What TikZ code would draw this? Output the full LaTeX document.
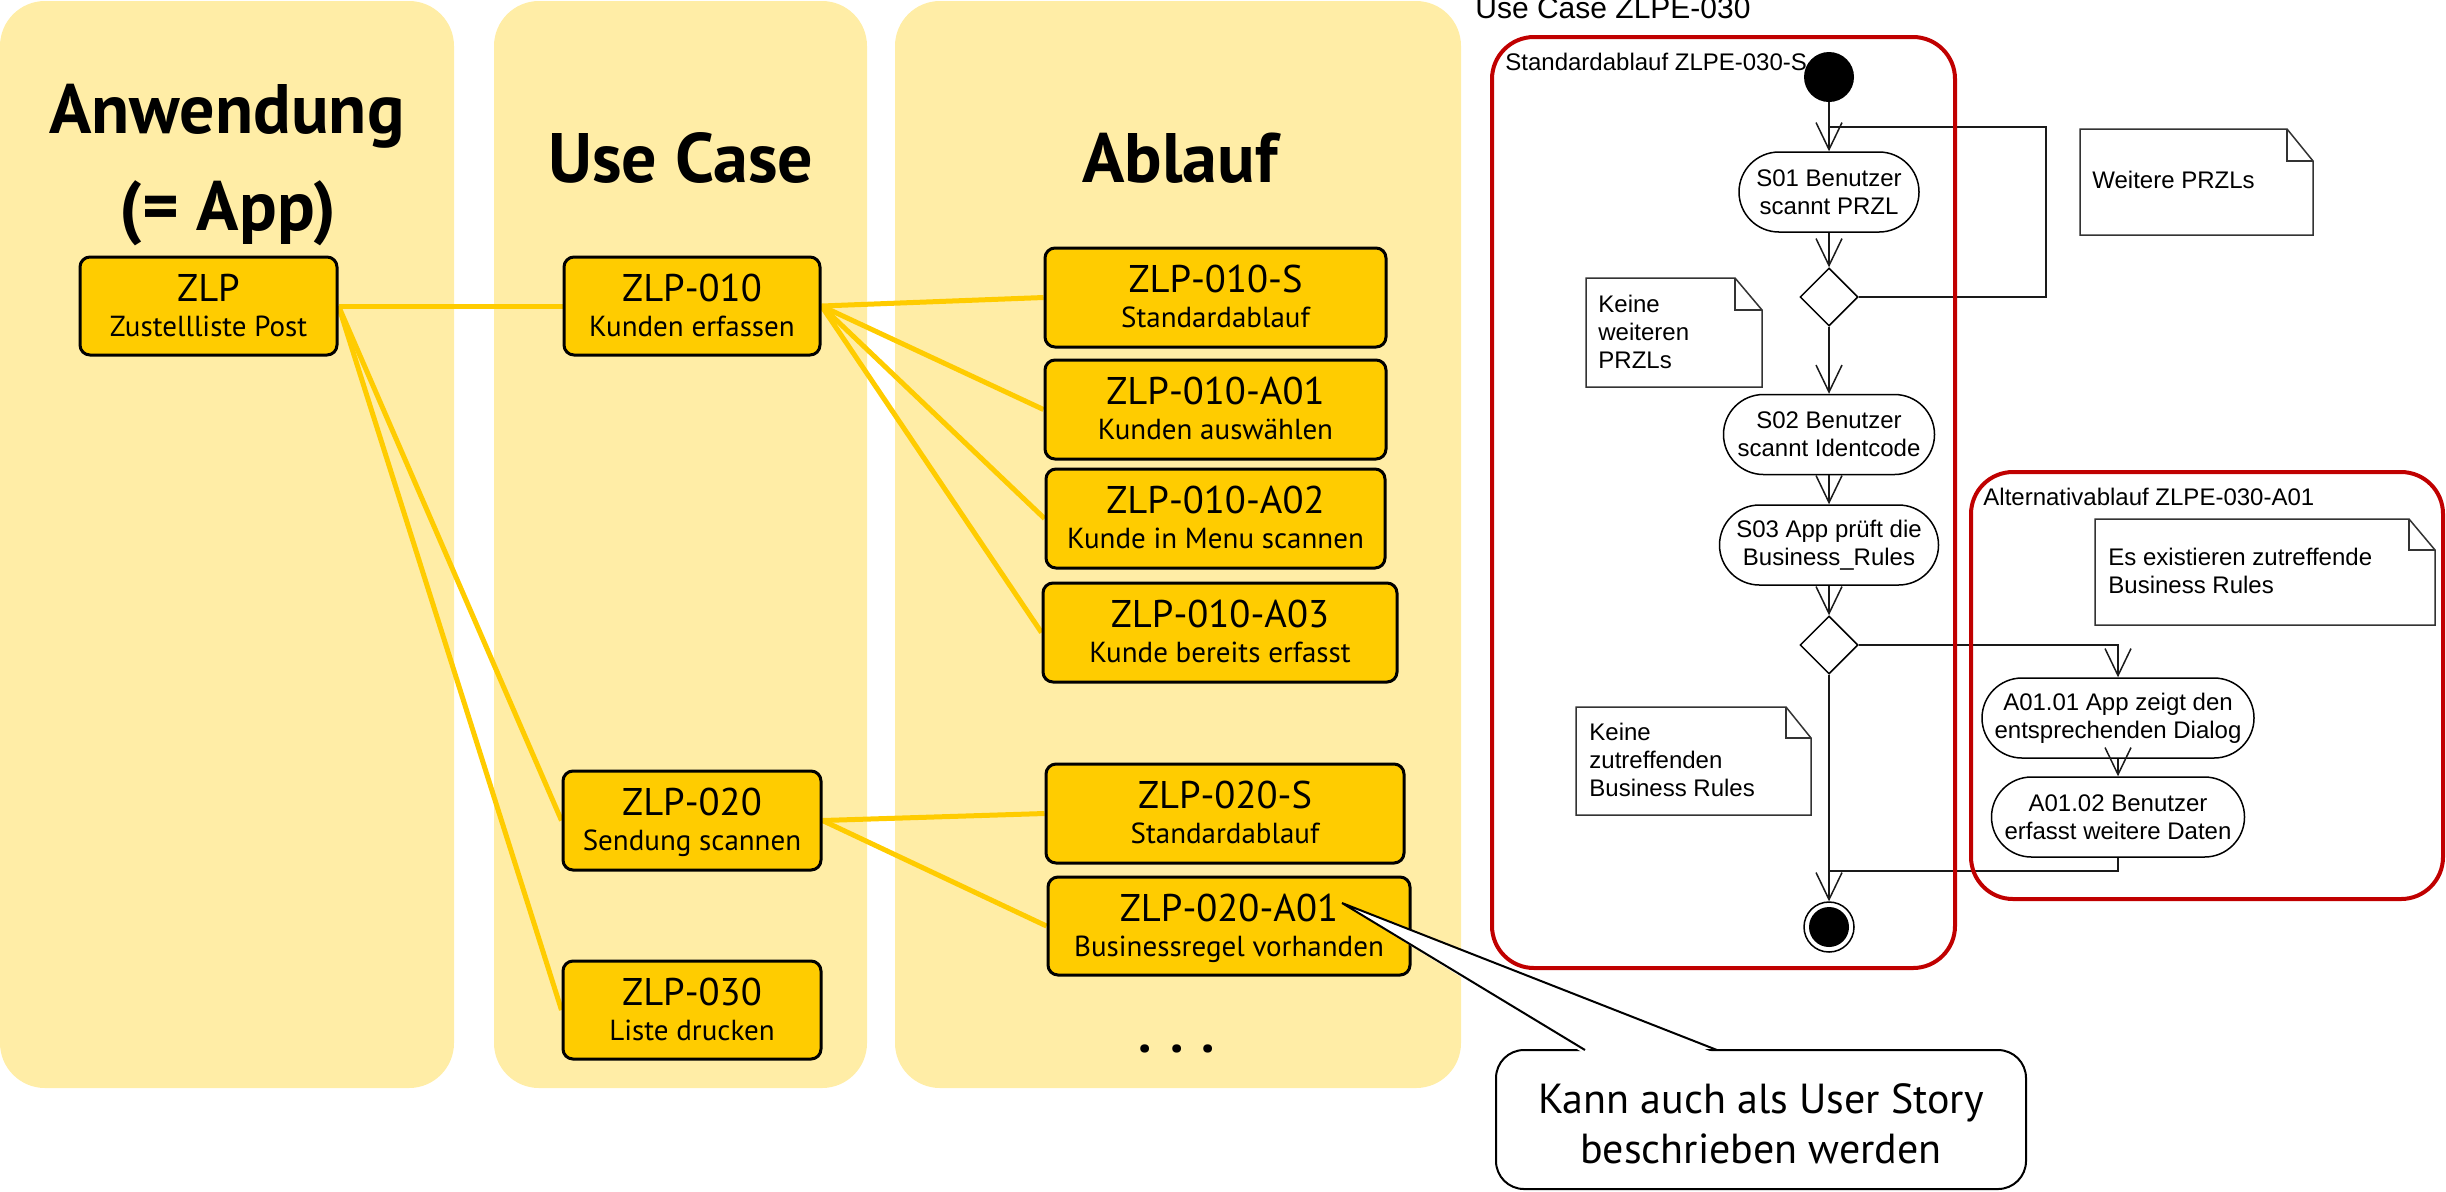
\documentclass[tikz,border=0pt]{standalone}
\usepackage{fontspec}
\setmainfont{Liberation Sans}
\newfontfamily\ptsans{PT Sans}
\usetikzlibrary{arrows.meta,shapes.geometric,calc}

\definecolor{panelgelb}{HTML}{FFEDA6}
\definecolor{postgelb}{HTML}{FFCC00}
\definecolor{rahmenrot}{HTML}{C00000}
\definecolor{linie}{HTML}{1A1A1A}
\definecolor{notiz}{HTML}{333333}

\pgfdeclarelayer{bg}
\pgfdeclarelayer{links}
\pgfsetlayers{bg,links,main}

\tikzset{
  panel/.style={fill=panelgelb, rounded corners=22.5pt},
  ybox/.style={draw=black, line width=1.5pt, fill=postgelb, rounded corners=5pt, inner sep=0pt},
  ylink/.style={draw=postgelb, line width=2.5pt},
  ytitle/.style={font=\ptsans\fontsize{19.3pt}{22pt}\selectfont, anchor=base, inner sep=0pt},
  ysub/.style={font=\ptsans\fontsize{14.5pt}{17pt}\selectfont, anchor=base, inner sep=0pt},
  heading/.style={font=\ptsans\bfseries\fontsize{35pt}{40pt}\selectfont, anchor=base, inner sep=0pt},
  umltext/.style={font=\fontsize{12pt}{14pt}\selectfont},
  act/.style={umltext, draw=black, line width=0.75pt, fill=white, rounded corners=20pt,
    minimum height=40pt, align=center, inner sep=0pt},
  decision/.style={diamond, draw=black, line width=0.75pt, fill=white,
    minimum width=29pt, minimum height=29pt, inner sep=0pt},
  startnode/.style={circle, fill=black, minimum size=25pt, inner sep=0pt},
  finalnode/.style={circle, draw=black, line width=0.75pt, fill=white, minimum size=25pt,
    inner sep=0pt, path picture={\fill[black] (path picture bounding box.center) circle (10pt);}},
  umlline/.style={draw=linie, line width=0.75pt},
  flow/.style={umlline, -{Straight Barb[length=13.5pt,width=13pt]}},
  note/.style={draw=notiz, line width=0.75pt, fill=white},
  notetext/.style={umltext, align=left, anchor=north west, inner sep=0pt},
  framelabel/.style={umltext, anchor=base west, inner sep=0pt},
  rahmen/.style={draw=rahmenrot, line width=2pt, rounded corners=21pt},
  callout/.style={draw=black, line width=1pt, fill=white},
}

% yellow box with a title line and a subtitle line
\newcommand\ablaufbox[7]{%
  \node[ybox, minimum width=#4*0.5pt, minimum height=#5*0.5pt] (#1) at (#2,#3) {};
  \node[ytitle] (#1-t) at ($(#1.center)+(0,-5)$) {#6};
  \node[ysub] (#1-s) at ($(#1.center)+(0,30)$) {#7};
}

% UML note with folded corner
\newcommand\umlnote[6]{%
  \draw[note] (#1,#2) -- ({#3-#5},#2) -- (#3,{#2+#6}) -- (#3,#4) -- (#1,#4) -- cycle;
  \draw[note, fill=none] ({#3-#5},#2) -- ({#3-#5},{#2+#6}) -- (#3,{#2+#6});
}

\begin{document}
\begin{tikzpicture}[x=0.5pt,y=-0.5pt]
\useasboundingbox (0,0) rectangle (2446,1191);

% ---------- columns ----------
\begin{pgfonlayer}{bg}
  \fill[panel] (0,1) rectangle (454,1088);
  \fill[panel] (494,1) rectangle (867,1088);
  \fill[panel] (895,1) rectangle (1461,1088);
\end{pgfonlayer}

\node[heading] (h-anw) at (227,133) {Anwendung};
\node[heading] (h-app) at (228,230) {(= App)};
\node[heading] (h-uc) at (681,182) {Use Case};
\node[heading] (h-abl) at (1180,182) {Ablauf};

\ablaufbox{zlp}{208.5}{306}{257}{98}{ZLP}{Zustellliste Post}
\ablaufbox{uc010}{692}{306}{256}{98}{ZLP-010}{Kunden erfassen}
\ablaufbox{uc020}{692}{820.5}{258}{99}{ZLP-020}{Sendung scannen}
\ablaufbox{uc030}{692}{1010}{258}{98}{ZLP-030}{Liste drucken}
\ablaufbox{a010s}{1215.5}{297.5}{341}{99}{ZLP-010-S}{Standardablauf}
\ablaufbox{a010a1}{1215.5}{409.5}{341}{99}{ZLP-010-A01}{Kunden auswählen}
\ablaufbox{a010a2}{1215.5}{518.5}{339}{99}{ZLP-010-A02}{Kunde in Menu scannen}
\ablaufbox{a010a3}{1220}{632.5}{354}{99}{ZLP-010-A03}{Kunde bereits erfasst}
\ablaufbox{a020s}{1225}{813.5}{358}{99}{ZLP-020-S}{Standardablauf}
\ablaufbox{a020a1}{1229}{926}{362}{98}{ZLP-020-A01}{Businessregel vorhanden}

\node[font=\ptsans\bfseries\fontsize{27pt}{30pt}\selectfont, anchor=base, inner sep=0pt]
  (dots) at (1177,1052) {. . .};

\begin{pgfonlayer}{links}
  \draw[ylink] (zlp.east) -- (uc010.west);
  \draw[ylink] (zlp.east) -- (uc020.west);
  \draw[ylink] (zlp.east) -- (uc030.west);
  \draw[ylink] (uc010.east) -- (a010s.west);
  \draw[ylink] (uc010.east) -- (a010a1.west);
  \draw[ylink] (uc010.east) -- (a010a2.west);
  \draw[ylink] (uc010.east) -- (a010a3.west);
  \draw[ylink] (uc020.east) -- (a020s.west);
  \draw[ylink] (uc020.east) -- (a020a1.west);
\end{pgfonlayer}

% ---------- activity diagram ----------
\node[framelabel, font=\fontsize{15pt}{18pt}\selectfont] (uc-title) at (1475,18) {Use Case ZLPE-030};

\umlnote{1586}{278}{1762}{387}{27}{32}
\node[notetext] (n1) at (1598,295) {Keine\\weiteren\\PRZLs};
\umlnote{2080}{129}{2313}{235}{26}{32}
\node[notetext] (n2) at (2092,171) {Weitere PRZLs};
\umlnote{2095}{519}{2435}{625}{26}{31}
\node[notetext] (n3) at (2108,548) {Es existieren zutreffende\\Business Rules};
\umlnote{1576}{707}{1811}{815}{25}{31}
\node[notetext] (n4) at (1589,723) {Keine\\zutreffenden\\Business Rules};

\node[startnode] (start) at (1829,77) {};
\node[act, minimum width=90pt] (s01) at (1829,192) {S01 Benutzer\\scannt PRZL};
\node[decision] (d1) at (1829,297) {};
\node[act, minimum width=105.5pt] (s02) at (1829,434.5) {S02 Benutzer\\scannt Identcode};
\node[act, minimum width=109.5pt] (s03) at (1829,545) {S03 App prüft die\\Business\_Rules};
\node[decision] (d2) at (1829,645) {};
\node[act, minimum width=136pt] (a0101) at (2118,718) {A01.01 App zeigt den\\entsprechenden Dialog};
\node[act, minimum width=126.5pt] (a0102) at (2118,817) {A01.02 Benutzer\\erfasst weitere Daten};
\node[finalnode] (final) at (1829,927) {};

\coordinate (loopTop) at (2046,127);
\coordinate (merge) at (1829,871);

\draw[flow] (start) -- (s01);
\draw[flow] (s01) -- (d1);
\draw[umlline] (d1.east) -| (loopTop) -- (loopTop -| s01);
\draw[flow] (d1) -- (s02);
\draw[flow] (s02) -- (s03);
\draw[flow] (s03) -- (d2);
\draw[flow] (d2.east) -| (a0101.north);
\draw[flow] (a0101) -- (a0102);
\draw[umlline] (a0102.south) |- (merge);
\draw[flow] (d2.south) -- (final.north);

\draw[rahmen] (1492,37) rectangle (1955,968);
\node[framelabel] (f1) at (1505,70) {Standardablauf ZLPE-030-S};
\draw[rahmen] (1971,472) rectangle (2443,899);
\node[framelabel] (f2) at (1983,505) {Alternativablauf ZLPE-030-A01};

% ---------- speech bubble ----------
\coordinate (tip) at (1342,903);
\coordinate (baseL) at (1585,1050);
\coordinate (baseR) at (1717,1050);
\draw[callout, rounded corners=14pt] (1496,1050) rectangle (2026,1189);
\fill[white] (1585,1054) -- (tip) -- (1717,1054) -- cycle;
\draw[callout, fill=none, line join=miter] (baseL) -- (tip) -- (baseR);
\node[font=\ptsans\fontsize{21pt}{25pt}\selectfont, align=center, anchor=north, inner sep=0pt]
  (story) at (1761,1083) {Kann auch als User Story\\beschrieben werden};

\end{tikzpicture}
\end{document}
